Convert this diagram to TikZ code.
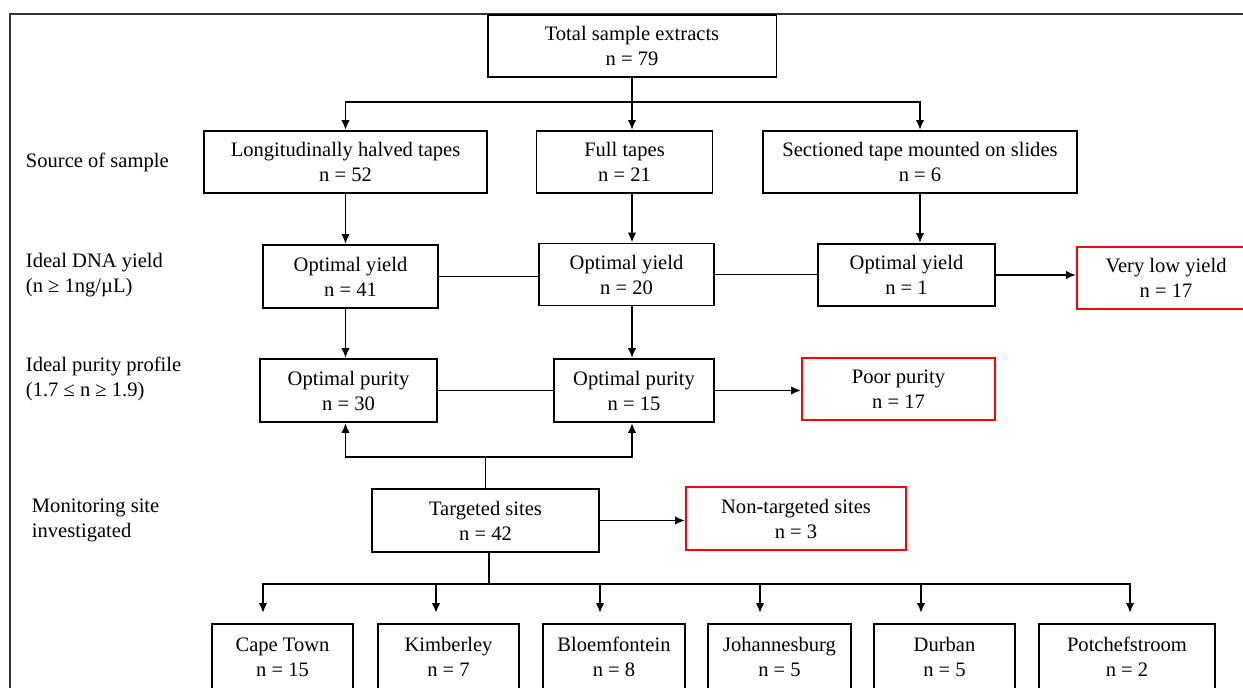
\documentclass[tikz,border=0pt]{standalone}
\usepackage{fontspec}
\setmainfont{Liberation Serif}
\usetikzlibrary{arrows.meta}

\begin{document}
\begin{tikzpicture}[x=0.02cm,y=-0.02cm,->,>={Latex[length=2mm,width=1.7mm]},line width=1.1pt,
  every node/.style={font=\fontsize{11.7}{14.2}\selectfont},
  box/.style={draw,align=center,inner sep=0pt,minimum height=1.24cm},
  redbox/.style={box,draw=red},
  lbl/.style={align=left,anchor=west,inner sep=0pt}]
  \useasboundingbox (0,0) rectangle (1243,688);
  \clip (0,0) rectangle (1243,688);
  \draw[-,line width=0.8pt,black!80] (10,700) -- (10,14) -- (1260,14);

  % row labels
  \node[lbl] (src) at (25,162) {Source of sample};
  \node[lbl] (yld) at (25,275) {Ideal DNA yield\\(n ≥ 1ng/µL)};
  \node[lbl] (pur) at (25,379) {Ideal purity profile\\(1.7 ≤ n ≥ 1.9)};
  \node[lbl] (mon) at (31,520) {Monitoring site\\investigated};

  % boxes
  \node[box,minimum width=5.78cm] (tot) at (632,46) {Total sample extracts\\n = 79};
  \node[box,minimum width=5.66cm] (lht) at (345.5,162) {Longitudinally halved tapes\\n = 52};
  \node[box,minimum width=3.52cm] (full) at (624.5,162) {Full tapes\\n = 21};
  \node[box,minimum width=6.28cm] (sect) at (920,162) {Sectioned tape mounted on slides\\n = 6};
  \node[box,minimum width=3.5cm,minimum height=1.26cm] (oy1) at (350.5,276.5) {Optimal yield\\n = 41};
  \node[box,minimum width=3.5cm] (oy2) at (626.5,274.5) {Optimal yield\\n = 20};
  \node[box,minimum width=3.54cm] (oy3) at (906.5,275) {Optimal yield\\n = 1};
  \node[redbox,minimum width=3.56cm] (vly) at (1166,278) {Very low yield\\n = 17};
  \node[box,minimum width=3.54cm,minimum height=1.26cm] (op1) at (348.5,390.5) {Optimal purity\\n = 30};
  \node[box,minimum width=3.2cm,minimum height=1.26cm] (op2) at (634,390.5) {Optimal purity\\n = 15};
  \node[redbox,minimum width=3.86cm] (poor) at (898.5,389) {Poor purity\\n = 17};
  \node[box,minimum width=4.54cm,minimum height=1.26cm] (tgt) at (485.5,520.5) {Targeted sites\\n = 42};
  \node[redbox,minimum width=4.4cm,minimum height=1.26cm] (ntgt) at (796,518.5) {Non-targeted sites\\n = 3};

  % source split
  \coordinate (s1) at (632,102);
  \draw[-] (tot.south) -- (s1);
  \draw (s1) -| (lht.north);
  \draw (s1) -| (sect.north);
  \draw (s1) -- (s1 |- full.north);

  % yield
  \draw (lht.south) -- (lht.south |- oy1.north);
  \draw (s1 |- full.south) -- (s1 |- oy2.north);
  \draw (sect.south) -- (sect.south |- oy3.north);
  \draw[-] (oy1.east) -- (oy1.east -| oy2.west);
  \draw[-] (oy2.east) -- (oy2.east -| oy3.west);
  \draw (oy3.east) -- (oy3.east -| vly.west);

  % purity
  \draw (lht.south |- oy1.south) -- (lht.south |- op1.north);
  \draw (s1 |- oy2.south) -- (s1 |- op2.north);
  \draw[-] (op1.east) -- (op2.west);
  \draw (op2.east) -- (op2.east -| poor.west);

  % sites
  \coordinate (j2) at (485.5,457);
  \draw[-] (tgt.north) -- (j2);
  \draw (j2) -| (lht.south |- op1.south);
  \draw (j2) -| (s1 |- op2.south);
  \draw (tgt.east) -- (tgt.east -| ntgt.west);
  \coordinate (j3) at (489,584);
  \draw[-] (tgt.south -| j3) -- (j3);
  \foreach \nm/\cx/\ax/\w/\city/\cnt in {ct/282.5/263/2.82/Cape Town/15,
      kim/448.5/436/2.82/Kimberley/7, blo/614/600/2.84/Bloemfontein/8,
      joh/779.5/760/2.86/Johannesburg/5, dur/944.5/921/2.82/Durban/5,
      pot/1127/1130/3.52/Potchefstroom/2}{
    \node[box,minimum width=\w cm,minimum height=1.32cm] (\nm) at (\cx,657) {\city\\n = \cnt};
    \coordinate (a\nm) at (\ax,613);
    \draw (j3) -| (a\nm);
  }
\end{tikzpicture}
\end{document}
